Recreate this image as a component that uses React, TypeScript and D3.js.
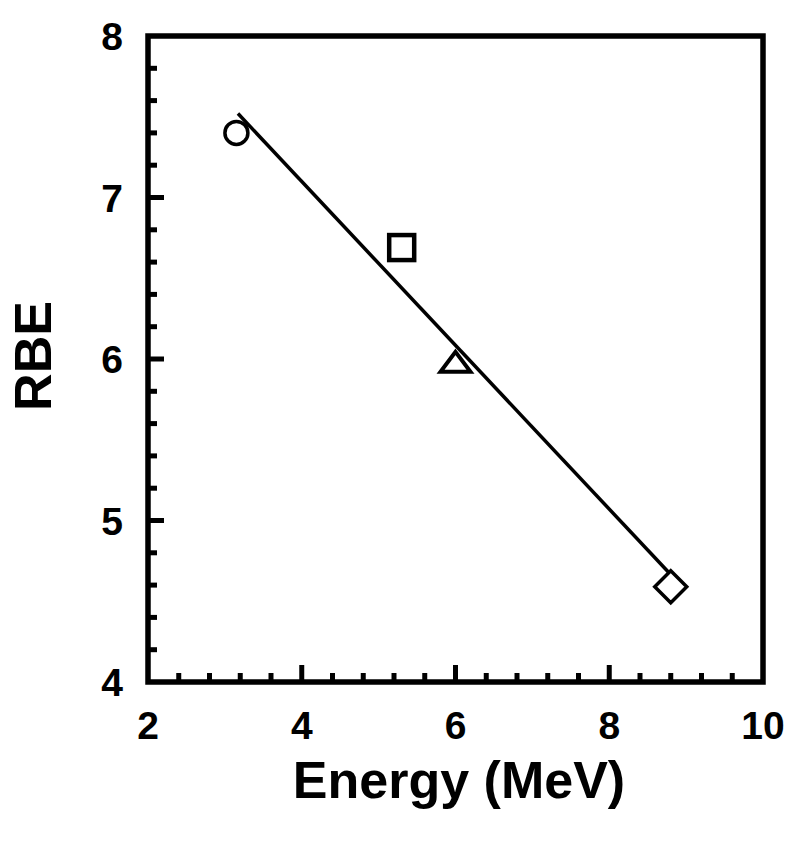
import React from "react";
import * as d3 from "d3";

const energy = [3.15, 5.3, 6.0, 8.8];
const rbe = [7.4, 6.69, 5.97, 4.59];
const markerShapes = ["circle", "square", "triangle", "diamond"];
const fitEnergy = [3.17, 8.79];
const fitRbe = [7.52, 4.67];
const xTicks = [2, 4, 6, 8, 10];
const yTicks = [4, 5, 6, 7, 8];

const W = 800;
const H = 841;
const FONT = "'Liberation Sans', Arial, Helvetica, sans-serif";

export default function App() {
  const x = d3.scaleLinear().domain([2, 10]).range([148, 763]);
  const y = d3.scaleLinear().domain([4, 8]).range([682, 36]);

  const xMinor = d3.range(2, 10.001, 0.4).filter(
    (v) => Math.abs(v - Math.round(v / 2) * 2) > 1e-6
  );
  const yMinor = d3.range(4, 8.001, 0.2).filter(
    (v) => Math.abs(v - Math.round(v)) > 1e-6
  );

  const line = d3
    .line<number>()
    .x((d, i) => x(fitEnergy[i]))
    .y((d, i) => y(fitRbe[i]));

  const marker = (shape: string, cx: number, cy: number, key: number) => {
    if (shape === "circle")
      return <circle key={key} cx={cx} cy={cy} r={11.5} fill="white" stroke="black" strokeWidth={3.5} />;
    if (shape === "square")
      return <rect key={key} x={cx - 12.5} y={cy - 12.5} width={25} height={25} fill="white" stroke="black" strokeWidth={4.5} />;
    if (shape === "triangle") {
      const p = `${cx},${cy - 12} ${cx + 15},${cy + 8} ${cx - 15},${cy + 8}`;
      return <polygon key={key} points={p} fill="white" stroke="black" strokeWidth={4} strokeLinejoin="miter" />;
    }
    const d = 16;
    const p = `${cx},${cy - d} ${cx + d},${cy} ${cx},${cy + d} ${cx - d},${cy}`;
    return <polygon key={key} points={p} fill="white" stroke="black" strokeWidth={3.5} />;
  };

  return (
    <svg
      width={W}
      height={H}
      style={{ position: "absolute", left: 0, top: 0, background: "white" }}
    >
      <rect x={0} y={0} width={W} height={H} fill="white" />
      {xMinor.map((v, i) => (
        <line key={"xm" + i} x1={x(v)} x2={x(v)} y1={682} y2={673} stroke="black" strokeWidth={5} />
      ))}
      {xTicks.slice(1, -1).map((v, i) => (
        <line key={"xM" + i} x1={x(v)} x2={x(v)} y1={682} y2={665} stroke="black" strokeWidth={5} />
      ))}
      {yMinor.map((v, i) => (
        <line key={"ym" + i} x1={148} x2={157} y1={y(v)} y2={y(v)} stroke="black" strokeWidth={5} />
      ))}
      {yTicks.slice(1, -1).map((v, i) => (
        <line key={"yM" + i} x1={148} x2={164} y1={y(v)} y2={y(v)} stroke="black" strokeWidth={5} />
      ))}
      <rect x={148} y={36} width={763 - 148} height={682 - 36} fill="none" stroke="black" strokeWidth={5.5} />
      {xTicks.map((v) => (
        <text key={"xl" + v} x={x(v)} y={739} textAnchor="middle" fontFamily={FONT} fontWeight="bold" fontSize={39} fill="black">
          {v}
        </text>
      ))}
      {yTicks.map((v) => (
        <text key={"yl" + v} x={123} y={y(v) + 14} textAnchor="end" fontFamily={FONT} fontWeight="bold" fontSize={39} fill="black">
          {v}
        </text>
      ))}
      <text x={459} y={798} textAnchor="middle" fontFamily={FONT} fontWeight="bold" fontSize={52} fill="black">
        Energy (MeV)
      </text>
      <text
        transform={`translate(51,356) rotate(-90)`}
        textAnchor="middle"
        fontFamily={FONT}
        fontWeight="bold"
        fontSize={52}
        fill="black"
      >
        RBE
      </text>
      <path d={line(fitEnergy) || ""} fill="none" stroke="black" strokeWidth={3.5} />
      {energy.map((e, i) => marker(markerShapes[i], x(e), y(rbe[i]), i))}
    </svg>
  );
}
